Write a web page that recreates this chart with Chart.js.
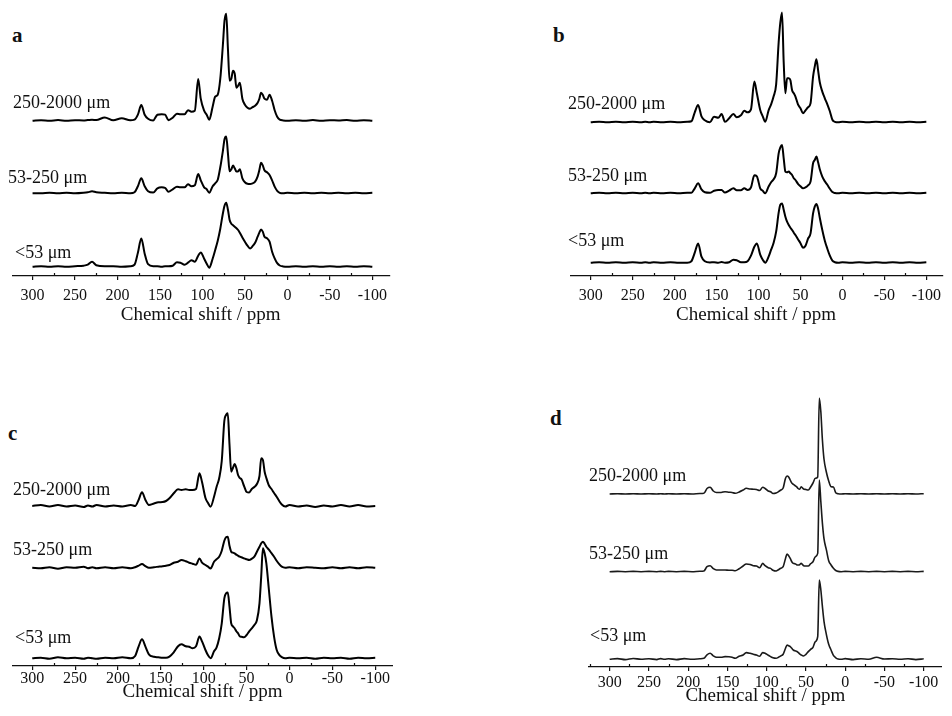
<!DOCTYPE html>
<html>
<head>
<meta charset="utf-8">
<script src="https://cdn.jsdelivr.net/npm/chart.js@4.4.1/dist/chart.umd.min.js"></script>
<style>
  body { margin: 0; background: #fff; width: 952px; height: 716px; position: relative; overflow: hidden;
         font-family: "Liberation Serif", "Times New Roman", serif; color: #111; }
  .pane { position: absolute; }
  .lbl { position: absolute; font-size: 18px; line-height: 20px; white-space: nowrap; transform: translateY(-50%); }
  .let { position: absolute; font-size: 21px; line-height: 22px; font-weight: bold; transform: translateY(-50%); }
</style>
</head>
<body>
<div class="let" style="left:12px;top:35px">a</div>
<div class="let" style="left:553px;top:35px">b</div>
<div class="let" style="left:8px;top:433px">c</div>
<div class="let" style="left:550px;top:418px">d</div>

<script>
  // chemical shift grid (ppm) shared by every trace
  const ppm = [
    300, 290, 280, 270, 260, 250, 240, 235, 230, 225,
    215, 205, 195, 185, 180, 176, 172, 168, 164, 158,
    153, 148, 144, 140, 135, 130, 126, 121, 117, 113,
    109, 105, 102, 98, 95, 92, 88, 85, 82, 79,
    76, 74, 72, 70, 68, 66, 64, 62, 60, 58,
    56, 53, 50, 47, 44, 41, 38, 35, 33, 31,
    29, 27, 24, 21, 18, 15, 12, 9, 5, 0,
    -10, -20, -30, -40, -50, -60, -70, -80, -90, -100
  ];
  const fractions = ["250-2000 \u03bcm", "53-250 \u03bcm", "<53 \u03bcm"];
  const tickValues = [325, 300, 275, 250, 225, 200, 175, 150, 125, 100, 75, 50, 25, 0, -25, -50, -75, -100];
  const axisTitle = "Chemical shift / ppm";

  // panel a
  const aCoarse = [
    0, 0.5, 0, 0.6, 0, 0.5, 0.2, 0.6, 1, 0.6,
    3.3, 0.5, 2.5, 0.4, 1, 6, 15.7, 6, 2, 0.3,
    6, 6.5, 6, 0.5, 3, 7, 6.5, 6.5, 10.5, 9,
    10, 41.7, 22, 10, 6, 1, 14, 24, 26, 42,
    75, 100, 107, 72, 40, 42, 50, 47, 33, 35,
    38, 22, 16, 13, 12, 13.5, 15, 18, 22, 28,
    26, 22, 21, 26, 20, 10.5, 4, 1, 0.3, 0,
    0.5, 0, 0.6, 0, 0.5, 0.2, 0.6, 0, 0.5, 0
  ];
  const aMedium = [
    0, 0, 0.5, 0, 0.5, 0, 0.5, 1, 2, 1,
    0.5, 0, 0.5, 0, 1, 7, 15, 7, 2, 0.7,
    5, 6, 5.5, 1.5, 4, 6.5, 6, 6, 9, 7,
    8, 19.3, 13, 6, 4, 0.5, 7, 10, 13.5, 26,
    42, 54, 56.7, 40, 22, 24, 27.7, 25, 21.7, 22,
    24, 15, 11, 9.5, 9.3, 10, 11.7, 17, 23.3, 30.5,
    28, 23, 21, 18.3, 13, 6.7, 2.5, 0.5, 0, 0.5,
    0, 0.5, 0, 0.5, 0, 0.5, 0, 0.5, 0, 0.5
  ];
  const aFine = [
    0, 0.5, 0, 0.5, 0, 0.5, 1, 2, 5, 1.5,
    0.5, 0.5, 0, 0.5, 2, 14, 28.3, 13, 2.5, 0.5,
    0.5, 0, 0.5, 0.5, 1, 4.5, 4, 2, 4, 6.5,
    5, 11, 14.3, 8, 3, -1, 8, 16.7, 26, 38,
    53, 61, 64, 57, 46.7, 43, 41.5, 40, 38.5, 36.7,
    34, 29.3, 25, 21, 18.3, 20.5, 24, 30, 34, 37.3,
    35, 30, 28.5, 25, 15, 8.3, 3.5, 1.2, 0.3, 0,
    0.5, 0, 0.5, 0, 0.5, 0, 0.5, 0, 0.5, 0
  ];

  // panel b
  const bCoarse = [
    0, 0.5, 0, 0.5, 0, 0.5, 0, 0.5, 0, 0.5,
    0, 0.5, 0, 0.5, 1, 10, 17.3, 6, 2, 0,
    5.5, 4.5, 8.3, 0.5, 4, 8.3, 5, 7, 11.5, 10,
    13, 40.7, 29, 12.3, 6, 0.5, 12, 18, 26, 38,
    80, 100, 109.7, 60, 29, 44, 44, 42, 32, 29,
    25.7, 18, 14, 9, 12, 15, 19, 45.7, 55.7, 63,
    52, 40, 30.7, 24, 18, 11, 2.5, 0.5, 0, 0.5,
    0, 0.5, 0, 0.5, 0, 0.5, 0, 0.5, 0, 0.5
  ];
  const bMedium = [
    0, 0.5, 0, 0.5, 0, 0.5, 0, 0.5, 0, 0.5,
    0, 0.5, 0, 0.5, 0.5, 5, 10, 4, 1, 0.5,
    2.5, 3.3, 3.3, 0.7, 2.7, 5, 3, 3, 5, 3.3,
    6, 18, 17, 5, 2.5, 0, 6.7, 11, 14, 20,
    40, 46, 48.3, 35, 21.7, 21, 21.7, 20, 18.3, 15,
    13.3, 9.5, 7, 5, 6, 8, 11.7, 30, 33.3, 36.7,
    31, 24, 16.7, 12, 8.5, 4.5, 1.2, 0.3, 0, 0.5,
    0, 0.5, 0, 0.5, 0, 0.5, 0, 0.5, 0, 0.5
  ];
  const bFine = [
    0, 0.5, 0, 0.5, 0, 0.5, 0, 0.5, 0, 0.5,
    0, 0.5, 0, 0, 1.5, 10, 19.3, 6, 1.5, 0.3,
    0.5, 0, 0.7, 0, 0.5, 3, 2.5, 0.5, 0.5, 1.5,
    7, 16, 19.3, 8, 3, 0, 6, 13, 20, 31,
    50, 58, 59.3, 53, 46, 41, 37.7, 35, 32.7, 30,
    27.7, 23.5, 19.5, 15, 17, 24, 29.3, 49.3, 56, 58.7,
    54, 45, 32.7, 22, 14, 7, 2, 0.5, 0, 0.5,
    0, 0.5, 0, 0.5, 0, 0.5, 0, 0.5, 0, 0.5
  ];

  // panel c
  const cCoarse = [
    0, 1, -0.5, 1, -0.5, 0.5, -1, 0.5, -0.5, 1,
    -0.5, 0.5, -0.5, 1, 0, 6, 13.7, 6, 1, 2.5,
    3.7, 4, 5, 7.7, 12.7, 16.7, 16, 16.7, 16, 16,
    17, 32.7, 24, 8, 3, -0.7, 9.3, 19.3, 27.7, 45,
    85, 91, 92.7, 62, 34.3, 38, 42, 38, 31, 28,
    26.7, 20, 14, 13.5, 17, 19, 22, 30, 47.7, 46,
    34.3, 28, 20.5, 17, 13, 9.3, 5, 1.5, -0.5, 1,
    -0.5, 0.5, -1, 0.5, -0.5, 1, -0.5, 1, -0.5, 0
  ];
  const cMedium = [
    0, -0.5, 0.5, -1, 0.5, 0, 1, -0.5, 0.5, -0.5,
    0.5, -0.5, 0.5, -0.5, 0.5, 2, 3.7, 1.5, 0, 0.5,
    1, 1.5, 2, 2.7, 5, 6, 7.7, 6.5, 5, 4,
    3, 9.3, 5, 2.7, 1, -0.7, 6, 8.5, 11, 17,
    27, 30.5, 31, 22, 16, 15, 14.3, 13, 12, 11,
    10.5, 9.3, 8.5, 7.7, 9, 11, 16, 21, 24.3, 26,
    24, 21, 18, 14.5, 11, 7, 3.5, 1, 0, 0.5,
    -0.5, 0.5, 0, -0.5, 0.5, -0.5, 0.5, -0.5, 0.5, 0
  ];
  const cFine = [
    0, 0.5, -0.5, 1, 0, 0.5, -0.5, 0.5, 0, -0.5,
    0.5, 0, 1, 0, 2.3, 11.7, 19, 11.7, 4, 1.5,
    1, 0.5, 0.5, 1.7, 6, 12, 14, 12, 11.5, 10,
    12, 21.7, 17, 8.3, 3, 0, 7, 11, 20, 35,
    60, 65, 65.7, 52, 35, 32, 30, 27, 25, 22,
    21.5, 21, 23.3, 27, 30, 33.3, 38, 55, 81.7, 110,
    105, 95, 68.3, 41.7, 21.7, 8.5, 3.5, 1.2, 0, 0.5,
    0, 0.5, -0.5, 0.5, 0, 0.5, -0.5, 0.5, 0, 0.5
  ];

  // panel d
  const dCoarse = [
    0, 0.3, 0, 0.3, 0, 0.3, 0, 0.3, 0, 0.3,
    0, 0.3, 0, 0.5, 0.7, 5.5, 6.7, 3, 1.5, 1.5,
    2.3, 1.8, 1.5, 0.7, 2, 4, 5.7, 5, 4.8, 4.5,
    3.5, 6.7, 5.5, 3, 2.3, 0.5, 1, 2.3, 4, 6,
    15.7, 18, 17, 14, 11, 9.7, 8.5, 7.3, 5.5, 4.7,
    7.3, 5, 4.5, 4, 7, 11, 15.7, 17, 96, 82.3,
    54, 35, 22, 13, 7.3, 7, 1.3, 0.3, 0, 0.3,
    0, 0.3, 0, 0.3, 0, 0.3, 0, 0.3, 0, 0.3
  ];
  const dMedium = [
    0, 0.3, 0, 0.3, 0, 0.3, 0, 0.3, 0, 0.3,
    0, 0.3, 0, 0.5, 0.7, 5, 6, 3, 1.7, 1.7,
    1.7, 1.5, 1.5, 1, 3, 5.7, 7.7, 7.3, 6, 5.7,
    4, 8.3, 6, 4, 3.3, 1.5, 0.7, 2, 3.5, 5,
    13.3, 17.7, 16, 13.3, 10, 8.3, 8, 7, 6.7, 7,
    8.3, 6, 5.7, 5.7, 8, 10, 15, 18.3, 91.7, 70,
    48.3, 33, 22, 11, 6.7, 3.5, 1.2, 0.3, 0, 0.3,
    0, 0.3, 0, 0.3, 0, 0.3, 0, 0.3, 0, 0.3
  ];
  const dFine = [
    0, 0.7, -0.3, 0.8, 0, 0.6, -0.3, 0.7, 0, 0.6,
    -0.3, 0.7, 0, 0.5, 1, 4.5, 6, 3.5, 2, 2,
    2.7, 2.5, 2, 1, 3, 4.3, 6.7, 6, 5, 4.3,
    3, 6.7, 6, 4, 2.7, 1.5, 1, 2, 3.5, 5,
    11, 14.3, 13.5, 12.7, 11, 9.3, 8.5, 8, 7, 5.5,
    4.3, 3.3, 5, 7.7, 10, 12, 17.7, 22.7, 79.3, 69.3,
    52.7, 38, 25, 15, 9.3, 4, 1.5, 0.3, 0, 0.7,
    -0.3, 0.6, 0, 2, 0.3, 0.6, 0, 0.6, -0.3, 0.5
  ];

  // layout of the four panels (page pixels)
  const panels = [
    { series: [aCoarse, aMedium, aFine], left: 12, top: 0, width: 381, height: 330, axisH: 54,
      xMax: 324.2, xMin: -120.1, lift: [155.3, 82.7, 9.3], tickPad: 6, titlePad: 3.6, line: 2, color: "#000",
      labels: [[13, 102], [8, 177], [15, 252]] },
    { series: [bCoarse, bMedium, bFine], left: 570, top: 0, width: 377, height: 330, axisH: 54,
      xMax: 324.7, xMin: -118.8, lift: [153.7, 82.7, 13.3], tickPad: 6, titlePad: 3.6, line: 2, color: "#000",
      labels: [[568, 103], [568, 175], [568, 240]] },
    { series: [cCoarse, cMedium, cFine], left: 12, top: 390, width: 381, height: 320, axisH: 44,
      xMax: 323.6, xMin: -120.7, lift: [160, 98.3, 7.7], tickPad: -1, titlePad: 6.6, line: 2, color: "#000",
      labels: [[13, 489], [13, 549], [15, 637]] },
    { series: [dCoarse, dMedium, dFine], left: 588, top: 380, width: 354, height: 336, axisH: 49,
      xMax: 326.7, xMin: -123.3, lift: [173, 95.3, 7.7], tickPad: 2, titlePad: 8.6, line: 1.6, color: "#1a1a1a",
      labels: [[589, 475], [589, 553], [590, 635]] }
  ];

  const minorTicks = {
    id: "minorTicks",
    afterDraw(chart) {
      const s = chart.scales.x;
      const ctx = chart.ctx;
      ctx.save();
      ctx.strokeStyle = "#111";
      ctx.lineWidth = 1.2;
      s.ticks.forEach(function (t) {
        if (t.value % 50 === 0) return;
        const px = Math.round(s.getPixelForValue(t.value)) + 0.5;
        ctx.beginPath();
        ctx.moveTo(px, s.top);
        ctx.lineTo(px, s.top - 3);
        ctx.stroke();
      });
      ctx.restore();
    }
  };

  function buildPanel(p) {
    const wrap = document.createElement("div");
    wrap.className = "pane";
    wrap.style.left = p.left + "px";
    wrap.style.top = p.top + "px";
    wrap.style.width = p.width + "px";
    wrap.style.height = p.height + "px";
    const canvas = document.createElement("canvas");
    canvas.width = p.width;
    canvas.height = p.height;
    wrap.appendChild(canvas);
    document.body.appendChild(wrap);

    p.labels.forEach(function (pos, k) {
      const d = document.createElement("div");
      d.className = "lbl";
      d.style.left = pos[0] + "px";
      d.style.top = pos[1] + "px";
      d.textContent = fractions[k];
      document.body.appendChild(d);
    });

    const plotH = p.height - p.axisH;
    new Chart(canvas, {
      type: "line",
      data: {
        datasets: p.series.map(function (s, k) {
          return {
            label: fractions[k],
            data: ppm.map((x, i) => ({ x: x, y: s[i] + p.lift[k] })),
            borderColor: p.color,
            borderWidth: p.line,
            pointRadius: 0,
            cubicInterpolationMode: "monotone",
            fill: false
          };
        })
      },
      options: {
        responsive: false,
        animation: false,
        layout: { padding: 0 },
        plugins: { legend: { display: false }, tooltip: { enabled: false } },
        scales: {
          x: {
            type: "linear",
            reverse: true,
            min: p.xMin,
            max: p.xMax,
            afterBuildTicks: function (s) {
              s.ticks = tickValues.filter(v => v <= p.xMax && v >= p.xMin).map(v => ({ value: v }));
            },
            afterFit: function (s) { s.height = p.axisH; },
            ticks: {
              autoSkip: false, maxRotation: 0, padding: p.tickPad, color: "#111",
              font: { family: "Liberation Serif", size: 16 },
              callback: v => (v % 50 === 0 ? String(v) : "")
            },
            grid: {
              drawOnChartArea: false, tickLength: 4, lineWidth: 1.2,
              color: c => (c.tick && c.tick.value % 50 === 0 ? "#111" : "rgba(0,0,0,0)")
            },
            border: { color: "#111", width: 1.2 },
            title: {
              display: true, text: axisTitle, color: "#111",
              font: { family: "Liberation Serif", size: 19 },
              padding: { top: 0, bottom: p.titlePad }
            }
          },
          y: { display: false, min: 0, max: plotH }
        }
      },
      plugins: [minorTicks]
    });
  }

  panels.forEach(buildPanel);
</script>
</body>
</html>
